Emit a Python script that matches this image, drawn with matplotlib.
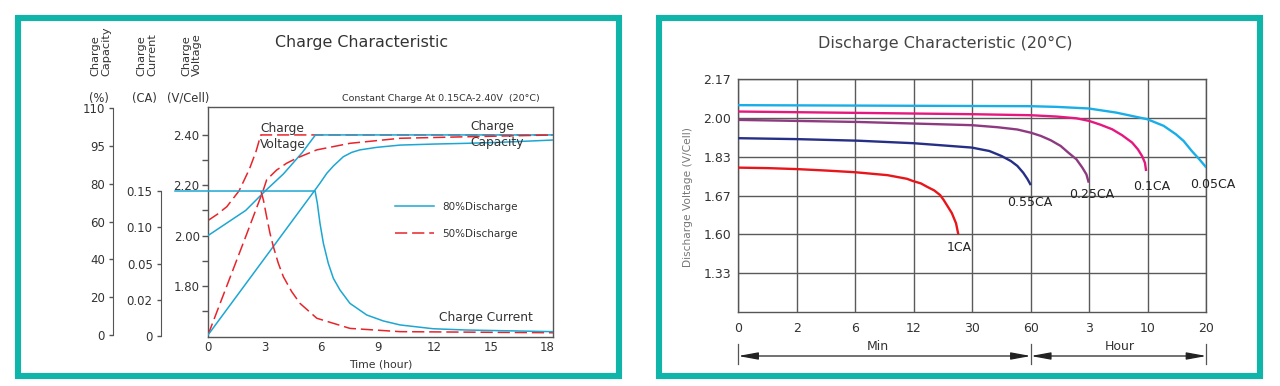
import numpy as np
import matplotlib
matplotlib.use('Agg')
import matplotlib.pyplot as plt
from matplotlib.patches import Rectangle
import matplotlib.transforms as mtrans

plt.rcParams['font.family'] = ['DejaVu Sans']

# ---------------- data: charge characteristic ----------------
time_ticks = [0, 3, 6, 9, 12, 15, 18]
volt_ticks = [1.80, 2.00, 2.20, 2.40]
volt_labels = ['1.80', '2.00', '2.20', '2.40']
volt_minor = [1.70, 1.90, 2.10, 2.30]
cap_ticks = [0, 20, 40, 60, 80, 95, 110]
cap_labels = ['0', '20', '40', '60', '80', '95', '110']
cur_ticks = [0, 0.02, 0.05, 0.10, 0.15]
cur_labels = ['0', '0.02', '0.05', '0.10', '0.15']

# 80% discharge (blue, solid)
v80_t = [0, 1, 2, 3, 4, 5, 5.7, 18.3]
v80 = [2.00, 2.05, 2.10, 2.175, 2.245, 2.33, 2.40, 2.40]
c80_t = [0, 5.68, 5.94, 6.30, 6.65, 7.18, 7.62, 8.06, 8.95, 10.19, 11.95, 13.72, 15.49, 18.3]
c80 = [0, 76.7, 80.2, 84.1, 87.0, 90.7, 92.4, 93.4, 94.4, 95.3, 95.7, 96.0, 96.4, 97.3]
i80_t = [0, 5.68, 5.80, 5.94, 6.12, 6.38, 6.65, 7.00, 7.53, 8.42, 9.30, 10.19, 11.95, 13.72, 18.3]
i80 = [0.15, 0.15, 0.133, 0.1055, 0.0779, 0.0503, 0.0377, 0.0281, 0.018, 0.0116, 0.0083,
       0.0061, 0.0040, 0.0033, 0.0024]
# 50% discharge (red, dashed)
v50_t = [0, 0.5, 1.0, 1.65, 2.2, 2.55, 2.8, 18.3]
v50 = [2.06, 2.085, 2.115, 2.178, 2.265, 2.335, 2.40, 2.40]
c50_t = [0, 1.0, 2.0, 2.93, 3.11, 3.38, 3.64, 4.17, 4.70, 5.77, 7.53, 10.19, 13.72, 18.3]
c50 = [0, 26, 52, 76.5, 81.5, 83.5, 85.4, 88.1, 90.1, 93.4, 96.0, 98.0, 98.6, 99.3]
i50_t = [2.81, 2.94, 3.11, 3.29, 3.47, 3.73, 4.0, 4.44, 4.88, 5.77, 6.65, 7.53, 10.19, 18.3]
i50 = [0.15, 0.1375, 0.1145, 0.0915, 0.073, 0.0503, 0.039, 0.0267, 0.018, 0.0098, 0.007,
       0.0042, 0.0024, 0.0018]

# ---------------- data: discharge characteristic ----------------
dis_time_ticks = [0, 2, 6, 12, 30, 60, 180, 600, 1200]          # minutes
dis_time_labels = ['0', '2', '6', '12', '30', '60', '3', '10', '20']
dis_volt_ticks = [1.33, 1.60, 1.67, 1.83, 2.00, 2.17]
dis_volt_labels = ['1.33', '1.60', '1.67', '1.83', '2.00', '2.17']

t_1ca = [0, 1, 2, 4, 6, 9.3, 11.3, 11.9, 14.2, 16.1, 18.3, 20.1, 21.2, 23.7, 25.0, 25.7]
v_1ca = [1.785, 1.783, 1.779, 1.773, 1.766, 1.754, 1.739, 1.730, 1.720, 1.706, 1.691, 1.672,
         1.662, 1.6385, 1.620, 1.600]
t_055 = [0, 1.98, 6.3, 12, 29.8, 38.7, 45, 49.8, 53.1, 56.1, 58.2, 60]
v_055 = [1.911, 1.907, 1.900, 1.889, 1.870, 1.855, 1.833, 1.812, 1.792, 1.764, 1.739, 1.713]
t_025 = [0, 6.3, 29.8, 42.9, 53.1, 60, 80.4, 100.8, 121.2, 136.8, 153.6, 165.6, 174, 178.8]
v_025 = [1.991, 1.982, 1.968, 1.959, 1.949, 1.935, 1.921, 1.902, 1.877, 1.848, 1.819, 1.785,
         1.757, 1.723]
t_01 = [0, 6.3, 29.8, 60, 112.8, 153.6, 178.8, 259.8, 343.8, 415, 486.6, 528.6, 558, 579, 587.4]
v_01 = [2.0276, 2.0217, 2.016, 2.0115, 2.0057, 1.998, 1.987, 1.970, 1.950, 1.924, 1.892, 1.862,
        1.833, 1.805, 1.771]
t_005 = [0, 60, 112.8, 178.8, 373, 596, 762, 888, 966, 1050, 1128, 1200]
v_005 = [2.0555, 2.051, 2.048, 2.041, 2.023, 1.994, 1.965, 1.928, 1.899, 1.855, 1.819, 1.785]

rate_labels = ['1CA', '0.55CA', '0.25CA', '0.1CA', '0.05CA']

# ---------------- helpers ----------------
W, H = 1280, 386
fig = plt.figure(figsize=(12.8, 3.86), dpi=100)


def fx(px):
    return px / W


def fy(py):
    return 1 - py / H


def step_scale(vals):
    """Scale that puts each value of `vals` at equally spaced positions."""
    v = np.asarray(vals, float)
    p = np.arange(len(v), dtype=float)
    v_ext = np.concatenate([[v[0] - (v[1] - v[0]) * 50], v, [v[-1] + (v[-1] - v[-2]) * 50]])
    p_ext = np.concatenate([[-50.0], p, [p[-1] + 50.0]])
    return (lambda x: np.interp(x, v_ext, p_ext), lambda x: np.interp(x, p_ext, v_ext))


TEAL = '#0fb5a8'
for x0, x1 in [(18, 619), (658.7, 1259.7)]:
    fig.patches.append(Rectangle((fx(x0), fy(376.3)), fx(x1) - fx(x0), fy(18.3) - fy(376.3),
                                 transform=fig.transFigure, fill=False, edgecolor=TEAL,
                                 linewidth=4.4, joinstyle='miter'))

BLUE = '#1ca6d3'
RED = '#e8242b'
TXT = '#333333'
FRAME = '#555555'

# ================= left chart =================
ax = fig.add_axes([fx(208), fy(337), fx(553) - fx(208), (337 - 107) / H])
ax.set_xlim(0, 18.3)
ax.set_ylim(1.597, 2.511)
for s in ax.spines.values():
    s.set_color(FRAME)
    s.set_linewidth(1.0)
ax.set_xticks(time_ticks, [str(t) for t in time_ticks])
ax.set_yticks(volt_ticks, volt_labels)
ax.set_yticks(volt_minor, minor=True)
ax.tick_params(axis='x', length=0, pad=3, labelsize=8.5, colors=TXT)
ax.tick_params(axis='y', which='both', direction='out', length=4, width=1, color=FRAME,
               pad=2, labelsize=8.5, labelcolor=TXT)
ax.set_xlabel('Time (hour)', fontsize=7.8, color=TXT, labelpad=4)

dash = (8, 3.2)
ax.plot(v50_t, v50, color=RED, lw=1.1, dashes=dash, zorder=2)
ax.plot(v80_t, v80, color=BLUE, lw=1.1, zorder=3)


def side_scale(axis, ticks, labels, xpos):
    for k in ['top', 'bottom', 'right']:
        axis.spines[k].set_visible(False)
    sp = axis.spines['left']
    sp.set_visible(True)
    sp.set_position(('axes', xpos))
    sp.set_bounds(ticks[0], ticks[-1])
    sp.set_color(FRAME)
    axis.yaxis.set_ticks_position('left')
    axis.yaxis.set_label_position('left')
    axis.set_yticks(ticks, labels)
    axis.set_yticks([ticks[0], ticks[-1]], minor=True)
    axis.tick_params(axis='y', direction='out', length=3, width=1, color=FRAME, pad=3,
                     labelsize=8.5, labelcolor=TXT)
    axis.tick_params(axis='y', which='minor', direction='in', length=3, width=1,
                     color=FRAME)


# capacity axis
axc = ax.twinx()
axc.set_yscale('function', functions=step_scale(cap_ticks))
axc.set_ylim(-1.06, 110.4)
side_scale(axc, cap_ticks, cap_labels, (113.3 - 208) / 345)
axc.plot(c50_t, c50, color=RED, lw=1.1, dashes=dash, zorder=2)
axc.plot(c80_t, c80, color=BLUE, lw=1.1, zorder=3)

# current axis
axi = ax.twinx()
axi.set_yscale('function', functions=step_scale(cur_ticks))
axi.set_ylim(-0.00055, 0.2659)
side_scale(axi, cur_ticks, cur_labels, (161 - 208) / 345)
axi.plot(i50_t, i50, color=RED, lw=1.1, dashes=dash, zorder=2)
axi.plot(i80_t, i80, color=BLUE, lw=1.1, zorder=3)
# leader of the constant-current level back towards the current scale
blend = mtrans.blended_transform_factory(axi.transAxes, axi.transData)
axi.plot([(175 - 208) / 345, 0], [cur_ticks[-1], cur_ticks[-1]], transform=blend,
         color=BLUE, lw=1.1, clip_on=False)

# legend
ax.plot([], [], color=BLUE, lw=1.1, label='80%Discharge')
ax.plot([], [], color=RED, lw=1.1, dashes=dash, label='50%Discharge')
leg = ax.legend(loc='upper left', bbox_to_anchor=((395 - 208) / 345, 1 - (202 - 107) / 230),
                frameon=False, fontsize=7.5, handlelength=3.7, handletextpad=0.8,
                labelspacing=1.6, borderpad=0, borderaxespad=0)
for t in leg.get_texts():
    t.set_color(TXT)

fig.text(fx(362), fy(42), 'Charge Characteristic', ha='center', va='center',
         fontsize=11.4, color=TXT)
fig.text(fx(540), fy(98.5), 'Constant Charge At 0.15CA-2.40V  (20°C)', ha='right',
         va='center', fontsize=6.8, color=TXT)
for xc, txt in [(101, 'Charge\nCapacity'), (146.7, 'Charge\nCurrent'), (191.7, 'Charge\nVoltage')]:
    fig.text(fx(xc), fy(76), txt, rotation=90, ha='center', va='bottom',
             multialignment='left', fontsize=8.2, color=TXT, linespacing=1.1)
for xc, txt in [(99.3, '(%)'), (144, '(CA)'), (188.3, '(V/Cell)')]:
    fig.text(fx(xc), fy(98.3), txt, ha='center', va='center', fontsize=8.3, color=TXT)
fig.text(fx(260), fy(136.7), 'Charge\nVoltage', ha='left', va='center', fontsize=8.8,
         color=TXT, linespacing=1.3)
fig.text(fx(470.7), fy(134.2), 'Charge\nCapacity', ha='left', va='center', fontsize=8.8,
         color=TXT, linespacing=1.3)
fig.text(fx(439.3), fy(317.7), 'Charge Current', ha='left', va='center', fontsize=8.8,
         color=TXT)

# ================= right chart =================
L2, R2, T2, B2 = 738.2, 1206.4, 79.0, 312.1
ax2 = fig.add_axes([fx(L2), fy(B2), (R2 - L2) / W, (B2 - T2) / H])
ax2.set_xscale('function', functions=step_scale(dis_time_ticks))
ax2.set_yscale('function', functions=step_scale([1.06] + dis_volt_ticks))
ax2.set_xlim(0, 1200)
ax2.set_ylim(1.06, 2.17)
ax2.set_xticks(dis_time_ticks, dis_time_labels)
ax2.set_yticks(dis_volt_ticks, dis_volt_labels)
ax2.minorticks_off()
ax2.grid(True, color='#5a5a5a', lw=1.0)
ax2.tick_params(length=0, labelsize=9, labelcolor=TXT)
ax2.tick_params(axis='y', pad=5)
ax2.tick_params(axis='x', pad=7)
for s in ax2.spines.values():
    s.set_color('#555555')
    s.set_linewidth(1.0)

series = [(t_1ca, v_1ca, '#e8151b'), (t_055, v_055, '#262f86'), (t_025, v_025, '#8e3a80'),
          (t_01, v_01, '#e6177f'), (t_005, v_005, '#18aee8')]
for t, v, c in series:
    ax2.plot(t, v, color=c, lw=1.7, solid_capstyle='butt', solid_joinstyle='round', zorder=3)

for (xc, yc), lab in zip([(959, 247), (1030, 202), (1092, 195), (1152, 187), (1212.6, 185)],
                         rate_labels):
    fig.text(fx(xc), fy(yc), lab, ha='center', va='center', fontsize=9, color='#222222')

fig.text(fx(945.7), fy(43), 'Discharge Characteristic (20°C)', ha='center', va='center',
         fontsize=11.5, color='#444444')
fig.text(fx(688), fy(197), 'Discharge Voltage (V/Cell)', rotation=90, ha='center',
         va='center', fontsize=7.7, color='#777777')

# Min / Hour dimension arrows
tr = mtrans.blended_transform_factory(ax2.transData, ax2.transAxes)
yarr = (B2 - 356) / (B2 - T2)
for x0, x1 in [(dis_time_ticks[0], dis_time_ticks[5]), (dis_time_ticks[5], dis_time_ticks[-1])]:
    ax2.annotate('', xy=(x0, yarr), xytext=(x1, yarr), xycoords=tr, textcoords=tr,
                 arrowprops=dict(arrowstyle='<|-|>,head_length=1.2,head_width=0.22',
                                 color='#222222', lw=0.9, shrinkA=0, shrinkB=0,
                                 mutation_scale=10),
                 annotation_clip=False)
for xb in [dis_time_ticks[0], dis_time_ticks[5], dis_time_ticks[-1]]:
    ax2.plot([xb, xb], [(B2 - 344) / (B2 - T2), (B2 - 364) / (B2 - T2)], transform=tr,
             color='#555555', lw=0.9, clip_on=False)
ax2.text((877.5 - L2) / (R2 - L2), (B2 - 346.7) / (B2 - T2), 'Min', transform=ax2.transAxes,
         ha='center', va='center', fontsize=9, color=TXT)
ax2.text((1119.5 - L2) / (R2 - L2), (B2 - 346.7) / (B2 - T2), 'Hour', transform=ax2.transAxes,
         ha='center', va='center', fontsize=9, color=TXT)

fig.savefig('out.png', dpi=100, facecolor='white')
